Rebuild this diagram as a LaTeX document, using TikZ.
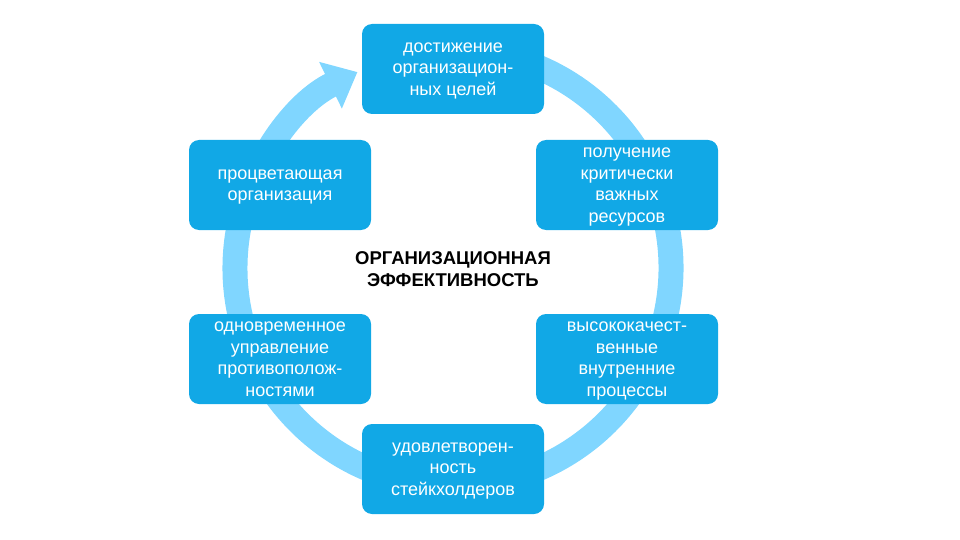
\documentclass[tikz,border=0pt]{standalone}
\usepackage{fontspec}
\setmainfont{Liberation Sans}
\usetikzlibrary{positioning, arrows.meta}
\definecolor{boxblue}{RGB}{17,168,230}
\definecolor{ringblue}{RGB}{128,214,255}

\begin{document}
\begin{tikzpicture}[
    x=1pt,
    y=1pt,
    box/.style={
        rectangle,
        rounded corners=10pt,
        fill=boxblue,
        text=white,
        align=center,
        text depth=0pt,
        minimum width=182pt,
        minimum height=90pt,
        font=\fontsize{18}{21.5}\selectfont
    },
    ring/.style={
        -{Triangle[width=50pt,length=30pt]},
        line width=25pt,
        draw=ringblue
    }
]
\useasboundingbox (0,0) rectangle (960,-540);

\coordinate (hub) at (453,-268);

% cycle ring behind the boxes
\draw[ring] (hub) ++(80:218) arc[start angle=80, end angle=-244, radius=218];

\node[box] (goals) at (453,-69)
{достижение\\организацион-\\ных целей};

\node[box] (resources) at (627,-185)
{получение\\критически\\важных\\ресурсов};

\node[box] (processes) at (627,-359)
{высококачест-\\венные\\внутренние\\процессы};

\node[box] (stakeholders) at (453,-469)
{удовлетворен-\\ность\\стейкхолдеров};

\node[box] (opposites) at (280,-359)
{одновременное\\управление\\противополож-\\ностями};

\node[box] (thriving) at (280,-185)
{процветающая\\организация};

\node[font=\bfseries\fontsize{18.5}{22}\selectfont, align=center, text depth=0pt] (title) at (453,-269)
{ОРГАНИЗАЦИОННАЯ\\ЭФФЕКТИВНОСТЬ};
\end{tikzpicture}
\end{document}
